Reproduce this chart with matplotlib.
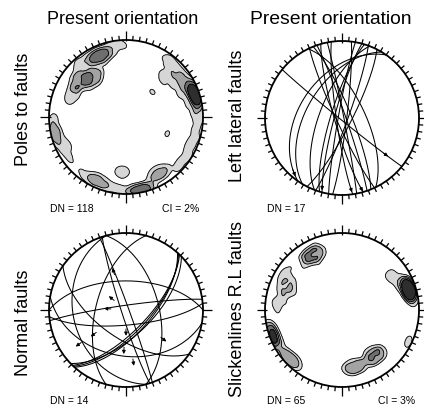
import numpy as np
import matplotlib.pyplot as plt
from matplotlib.patches import Circle

plt.rcParams['font.family'] = ['Liberation Sans', 'DejaVu Sans']

# poles to faults, present orientation (trend, plunge in degrees)
pole_trend = [70, 72, 74, 71, 73, 68, 75, 70, 76, 69,
              62, 58, 52, 46, 42, 82, 86, 64, 56, 78,
              36, 40, 48, 60, 72, 86, 92, 98, 30,
              106, 114, 120, 128, 110,
              256, 258, 260, 262, 255, 268, 276, 250, 250, 242, 234, 238,
              200, 203, 206, 201, 205,
              166, 168, 170, 169, 172, 167, 171, 165,
              148, 151, 150, 153, 147,
              215, 224, 190, 182, 186, 158, 138, 130, 212,
              335, 337, 338, 334, 336, 339, 329, 343,
              322, 350, 330, 346, 326, 355, 2, 318, 345, 312,
              305, 307, 306, 309, 308, 320, 322, 321, 319, 323, 313, 302, 314, 44, 66,
              289, 293, 291, 46, 38, 56, 112, 104, 120, 180, 188, 184]
pole_plunge = [5, 6, 4, 3, 7, 6, 5, 8, 3, 4,
               8, 10, 12, 12, 10, 6, 4, 14, 16, 12,
               8, 24, 26, 22, 20, 18, 10, 4, 4,
               8, 6, 10, 8, 14,
               2, 4, 1, 5, 6, 12, 8, 10, 15, 12, 5, 16,
               8, 10, 7, 12, 11,
               3, 2, 4, 6, 3, 5, 1, 2,
               16, 18, 14, 17, 19,
               6, 4, 6, 10, 3, 8, 10, 4, 14,
               14, 16, 13, 12, 17, 15, 14, 12,
               10, 10, 26, 25, 4, 6, 4, 16, 3, 8,
               21, 23, 25, 22, 27, 33, 35, 31, 35, 33, 28, 36, 40, 30, 26,
               24, 23, 27, 43, 56, 55, 34, 46, 46, 28, 28, 32]

# slickenlines on right-lateral faults (trend, plunge)
slick_trend = [331, 333, 332, 330, 334, 330, 344, 325, 342, 318,
               292, 295, 293, 302, 302, 298, 284, 282,
               272, 272,
               251, 253, 250, 252, 254, 249, 246, 244, 250, 226, 228, 227, 225, 236, 220,
               72, 73, 74, 72, 71, 75, 73, 74, 68, 78, 70, 58, 50, 62, 82,
               114, 117,
               166, 168, 167, 169, 144, 146, 145, 143, 156, 176, 142, 132, 147]
slick_plunge = [19, 21, 18, 21, 20, 9, 11, 30, 31, 20,
                22, 20, 25, 8, 14, 34, 30, 14,
                14, 22,
                2, 3, 1, 5, 1, 4, 3, 6, 12, 8, 7, 10, 6, 6, 10,
                10, 9, 11, 8, 11, 10, 12, 8, 13, 8, 15, 20, 22, 28, 4,
                4, 6,
                25, 27, 24, 26, 27, 26, 29, 25, 24, 20, 38, 24, 31]

# left lateral faults (strike, dip, right-hand rule)
ll_strike = [129, 215, 211, 334, 201, 195, 197, 20, 190, 7, 155, 338, 341, 164, 349, 172, 27]
ll_dip = [88, 44, 52, 66, 66, 82, 78, 84, 86, 85, 84, 80, 86, 82, 88, 84, 80]
# slip arrows: fault index and rake of the striation
ll_arrow_fault = [0, 1, 5, 13, 15]
ll_arrow_rake = [30, 12, 10, 8, 10]

# normal faults (strike, dip, right-hand rule)
nf_strike = [42, 43, 44, 46, 340, 162, 195, 262, 270, 85, 165, 125, 345, 100]
nf_dip = [64, 66, 68, 63, 87, 85, 58, 85, 59, 74, 32, 60, 55, 40]
# striations on normal faults (trend, plunge)
nf_slip_trend = [342, 309, 274, 233, 234, 128, 183, 172, 180]
nf_slip_plunge = [50, 74, 74, 50, 29, 42, 50, 36, 70]

W, H = 424, 406
R = 77
PAD = 1.2
CAP = 10.0  # counting cap radius, degrees


def project(trend, plunge):
    # lower hemisphere equal-area (Schmidt) projection, unit primitive
    t = np.radians(trend)
    r = np.sqrt(2) * np.sin(np.radians(90 - np.asarray(plunge)) / 2)
    return r * np.sin(t), r * np.cos(t)


def line_vectors(strike, dip, t):
    s = np.radians(strike)
    dd = s + np.pi / 2
    d = np.radians(dip)
    sv = np.array([np.sin(s), np.cos(s), 0.0])
    dv = np.array([np.sin(dd) * np.cos(d), np.cos(dd) * np.cos(d), np.sin(d)])
    return np.outer(np.cos(t), sv) + np.outer(np.sin(t), dv)


def to_trend_plunge(v):
    plunge = np.degrees(np.arcsin(np.clip(v[:, 2], -1, 1)))
    trend = np.degrees(np.arctan2(v[:, 0], v[:, 1]))
    return trend, plunge


def great_circle(strike, dip):
    v = line_vectors(strike, dip, np.linspace(0, np.pi, 241))
    return project(*to_trend_plunge(v))


def make_ax(fig, cx, cy):
    half = R * PAD
    ax = fig.add_axes([(cx - half) / W, 1 - (cy + half) / H, 2 * half / W, 2 * half / H])
    ax.set_xlim(-PAD, PAD)
    ax.set_ylim(-PAD, PAD)
    ax.axis('off')
    return ax


def draw_net(ax):
    ax.add_patch(Circle((0, 0), 1, fill=False, lw=1.3, ec='black', zorder=5))
    for az in range(0, 360, 5):
        a = np.radians(az)
        if az % 90 == 0:
            r0, r1 = 1 - 1.5 / R, 1 + 8.5 / R
        else:
            r0, r1 = 1, 1 + 4.5 / R
        ax.plot([r0 * np.sin(a), r1 * np.sin(a)], [r0 * np.cos(a), r1 * np.cos(a)],
                color='black', lw=0.9, solid_capstyle='butt', zorder=5)


def density_grid(trend, plunge, n=241):
    # percent of poles inside a counting cap, with a soft cap edge
    t = np.radians(trend)
    p = np.radians(plunge)
    v = np.column_stack([np.sin(t) * np.cos(p), np.cos(t) * np.cos(p), np.sin(p)])
    g = np.linspace(-1.03, 1.03, n)
    X, Y = np.meshgrid(g, g)
    r = np.clip(np.hypot(X, Y), 0, 1)
    gt = np.arctan2(X, Y)
    gp = np.pi / 2 - 2 * np.arcsin(r / np.sqrt(2))
    G = np.stack([np.sin(gt) * np.cos(gp), np.cos(gt) * np.cos(gp), np.sin(gp)], axis=-1)
    ang = np.degrees(np.arccos(np.clip(G @ v.T, -1, 1)))
    w = 1 / (1 + np.exp((ang - CAP) / 1.3))
    dens = w.sum(axis=-1) * 100 / len(trend)
    return X, Y, dens


def contour_panel(ax, trend, plunge, ci):
    X, Y, dens = density_grid(trend, plunge)
    levels = [ci, 2 * ci, 3 * ci, 4 * ci, 1000]
    fills = ['#d6d6d6', '#a3a3a3', '#6e6e6e', '#2e2e2e']
    clip = Circle((0, 0), 1, transform=ax.transData)
    cf = ax.contourf(X, Y, dens, levels=levels, colors=fills)
    cl = ax.contour(X, Y, dens, levels=levels[:-1], colors='black', linewidths=0.6)
    cf.set_clip_path(clip)
    cl.set_clip_path(clip)


def arrow(ax, x0, y0, x1, y1):
    ax.annotate('', xy=(x1, y1), xytext=(x0, y0),
                arrowprops=dict(arrowstyle='-|>', lw=0.7, color='black',
                                mutation_scale=5, shrinkA=0, shrinkB=0))


fig = plt.figure(figsize=(W / 100, H / 100), dpi=100)

# poles to faults
ax1 = make_ax(fig, 126, 118)
contour_panel(ax1, pole_trend, pole_plunge, 2)
draw_net(ax1)

# left lateral faults
ax2 = make_ax(fig, 342, 119)
for s, d in zip(ll_strike, ll_dip):
    x, y = great_circle(s, d)
    ax2.plot(x, y, color='black', lw=0.75)
for i, rake in zip(ll_arrow_fault, ll_arrow_rake):
    t = np.radians(rake)
    step = np.radians(-7 if rake < 90 else 7)
    v = line_vectors(ll_strike[i], ll_dip[i], np.array([t, t + step]))
    x, y = project(*to_trend_plunge(v))
    arrow(ax2, x[0], y[0], x[1], y[1])
draw_net(ax2)

# normal faults
ax3 = make_ax(fig, 126, 311)
for s, d in zip(nf_strike, nf_dip):
    x, y = great_circle(s, d)
    ax3.plot(x, y, color='black', lw=0.75)
sx, sy = project(np.array(nf_slip_trend), np.array(nf_slip_plunge))
for x, y in zip(sx, sy):
    r = np.hypot(x, y)
    arrow(ax3, x, y, x + 0.09 * x / r, y + 0.09 * y / r)
draw_net(ax3)

# slickenlines of right-lateral faults
ax4 = make_ax(fig, 342, 311)
contour_panel(ax4, slick_trend, slick_plunge, 3)
draw_net(ax4)

fig.text(123 / W, 1 - 24 / H, 'Present orientation', fontsize=13, ha='center', va='baseline')
fig.text(331 / W, 1 - 24 / H, 'Present orientation', fontsize=13.9, ha='center', va='baseline')

fig.text(24 / W, 1 - 109 / H, 'Poles to faults', fontsize=13, rotation=90, ha='center', va='center')
fig.text(237 / W, 1 - 116 / H, 'Left lateral faults', fontsize=13, rotation=90, ha='center', va='center')
fig.text(24 / W, 1 - 323 / H, 'Normal faults', fontsize=13, rotation=90, ha='center', va='center')
fig.text(237 / W, 1 - 309 / H, 'Slickenlines R.L faults', fontsize=13, rotation=90, ha='center', va='center')

fig.text(50 / W, 1 - 212 / H, 'DN = %d' % len(pole_trend), fontsize=7.5, va='baseline')
fig.text(199 / W, 1 - 212 / H, 'CI = 2%', fontsize=7.5, ha='right', va='baseline')
fig.text(267 / W, 1 - 212 / H, 'DN = %d' % len(ll_strike), fontsize=7.5, va='baseline')
fig.text(50 / W, 1 - 404 / H, 'DN = %d' % len(nf_strike), fontsize=7.5, va='baseline')
fig.text(267 / W, 1 - 404 / H, 'DN = %d' % len(slick_trend), fontsize=7.5, va='baseline')
fig.text(415 / W, 1 - 404 / H, 'CI = 3%', fontsize=7.5, ha='right', va='baseline')

fig.savefig('out.png', dpi=100)
